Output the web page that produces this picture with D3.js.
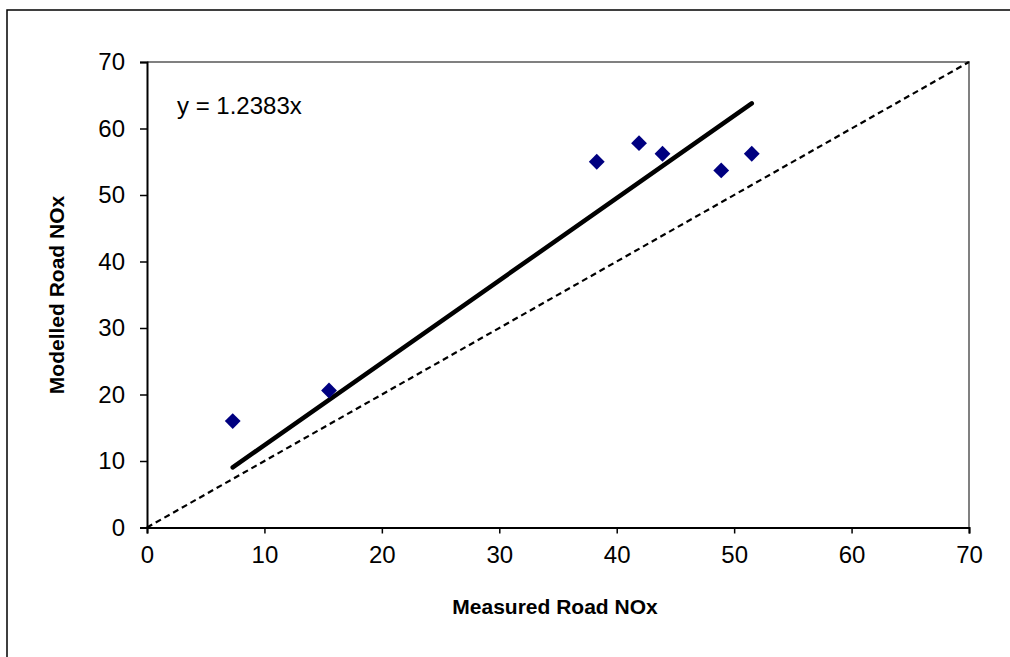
<!DOCTYPE html>
<html><head><meta charset="utf-8">
<script src="https://cdn.jsdelivr.net/npm/d3@7"></script>
<style>body{margin:0;background:#fff}svg{display:block}text{font-family:"Liberation Sans",Arial,sans-serif}</style>
</head><body><svg id="c" width="1010" height="657"></svg>
<script>
const measured = [7.3, 15.5, 38.3, 41.9, 43.9, 48.9, 51.5];
const modelled = [16.0, 20.6, 55.0, 57.8, 56.2, 53.7, 56.2];
const slope = 1.2383;
const fitRange = [7.3, 51.5];
const xTicks = [0, 10, 20, 30, 40, 50, 60, 70];
const yTicks = [0, 10, 20, 30, 40, 50, 60, 70];
const equationLabel = "y = 1.2383x";

const svg = d3.select("#c");
svg.append("rect").attr("x", 7).attr("y", 10).attr("width", 1100).attr("height", 700)
  .attr("fill", "#fff").attr("stroke", "#000").attr("stroke-width", 1.5);

const L = 147, R = 969, T = 62, B = 527.5;
const x = d3.scaleLinear().domain([0, 70]).range([L, R]);
const y = d3.scaleLinear().domain([0, 70]).range([B, T]);

svg.append("path").attr("d", `M${L},${T}H${R}V${B}`).attr("fill", "none").attr("stroke", "#808080").attr("stroke-width", 2);

svg.append("line").attr("x1", x(0)).attr("y1", y(0)).attr("x2", x(70)).attr("y2", y(70))
  .attr("stroke", "#000").attr("stroke-width", 2.2).attr("stroke-dasharray", "6,4");

svg.append("line").attr("x1", x(fitRange[0])).attr("y1", y(slope * fitRange[0]))
  .attr("x2", x(fitRange[1])).attr("y2", y(slope * fitRange[1]))
  .attr("stroke", "#000").attr("stroke-width", 4.5).attr("stroke-linecap", "round");

const xa = svg.append("g").attr("transform", `translate(0,${B})`)
  .call(d3.axisBottom(x).tickValues(xTicks).tickSize(6).tickFormat(d3.format("d")));
const ya = svg.append("g").attr("transform", `translate(${L},0)`)
  .call(d3.axisLeft(y).tickValues(yTicks).tickSize(7).tickPadding(15).tickFormat(d3.format("d")));
[xa, ya].forEach(g => {
  g.attr("font-size", null).attr("font-family", null);
  g.select(".domain").attr("stroke", "#000").attr("stroke-width", 2);
  g.selectAll(".tick line").attr("stroke", "#000").attr("stroke-width", 1.5);
  g.selectAll("text").style("font-size", "24px").attr("fill", "#000").style("font-family", "'Liberation Sans',Arial,sans-serif");
});
xa.selectAll("text").attr("y", 35.5).attr("dy", null);

const sym = d3.symbol().type(d3.symbolSquare).size(125);
svg.append("g").selectAll("path").data(measured.map((m, i) => [m, modelled[i]])).join("path")
  .attr("d", sym)
  .attr("transform", d => `translate(${x(d[0])},${y(d[1])}) rotate(45)`)
  .attr("fill", "#000080");

svg.append("text").attr("x", 177).attr("y", 114).style("font-size", "24px").text(equationLabel);
svg.append("text").attr("x", 555).attr("y", 614).attr("text-anchor", "middle")
  .style("font-size", "21px").attr("font-weight", "bold").text("Measured Road NOx");
svg.append("text").attr("transform", "translate(64,295) rotate(-90)").attr("text-anchor", "middle")
  .style("font-size", "21px").attr("font-weight", "bold").text("Modelled Road NOx");
</script></body></html>
